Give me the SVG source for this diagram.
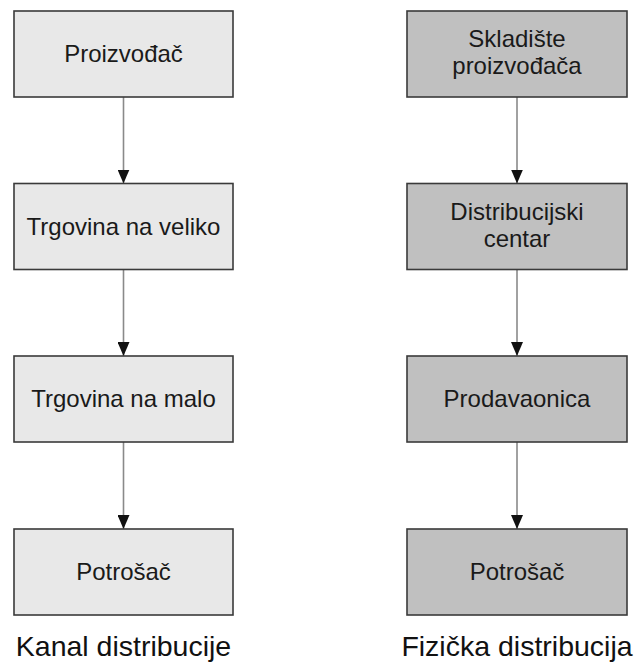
<svg xmlns="http://www.w3.org/2000/svg" width="637" height="671" viewBox="0 0 637 671">
<style>
.box{stroke:#3a3a3a;stroke-width:1.6}
.l{fill:#e8e8e8}
.r{fill:#c0c0c0}
.t{font-family:"Liberation Sans",Arial,sans-serif;font-size:24px;fill:#1a1a1a;text-anchor:middle}
.title{font-family:"Liberation Sans",Arial,sans-serif;font-size:28.5px;fill:#111;text-anchor:middle}
.c{stroke:#8a8a8a;stroke-width:1.6;fill:none;marker-end:url(#ah)}
</style>
<defs>
<marker id="ah" markerUnits="userSpaceOnUse" markerWidth="14" markerHeight="12" refX="14" refY="6" orient="auto" viewBox="0 0 14 12">
<path d="M0,0 L14,6 L0,12 Z" fill="#111"/>
</marker>
</defs>
<rect width="637" height="671" fill="#fff"/>
<g id="connectors">
<line class="c" x1="123.5" y1="97" x2="123.5" y2="183.5"/>
<line class="c" x1="123.5" y1="269.5" x2="123.5" y2="356"/>
<line class="c" x1="123.5" y1="442" x2="123.5" y2="529"/>
<line class="c" x1="517" y1="97" x2="517" y2="183.5"/>
<line class="c" x1="517" y1="269.5" x2="517" y2="356"/>
<line class="c" x1="517" y1="442" x2="517" y2="529"/>
</g>
<g id="proizvodjac"><rect class="box l" x="14" y="11" width="219" height="86"/><text class="t" x="123.5" y="62">Proizvođač</text></g>
<g id="trgovina-veliko"><rect class="box l" x="14" y="183.5" width="219" height="86"/><text class="t" x="123.5" y="234.5">Trgovina na veliko</text></g>
<g id="trgovina-malo"><rect class="box l" x="14" y="356" width="219" height="86"/><text class="t" x="123.5" y="407">Trgovina na malo</text></g>
<g id="potrosac-l"><rect class="box l" x="14" y="529" width="219" height="86"/><text class="t" x="123.5" y="580">Potrošač</text></g>
<g id="skladiste"><rect class="box r" x="407" y="11" width="220" height="86"/><text class="t" x="517" y="47">Skladište</text><text class="t" x="517" y="74">proizvođača</text></g>
<g id="distribucijski"><rect class="box r" x="407" y="183.5" width="220" height="86"/><text class="t" x="517" y="220">Distribucijski</text><text class="t" x="517" y="247">centar</text></g>
<g id="prodavaonica"><rect class="box r" x="407" y="356" width="220" height="86"/><text class="t" x="517" y="407">Prodavaonica</text></g>
<g id="potrosac-r"><rect class="box r" x="407" y="529" width="220" height="86"/><text class="t" x="517" y="580">Potrošač</text></g>
<g id="labels">
<text class="title" x="123.5" y="656">Kanal distribucije</text>
<text class="title" x="517" y="656">Fizička distribucija</text>
</g>
</svg>
